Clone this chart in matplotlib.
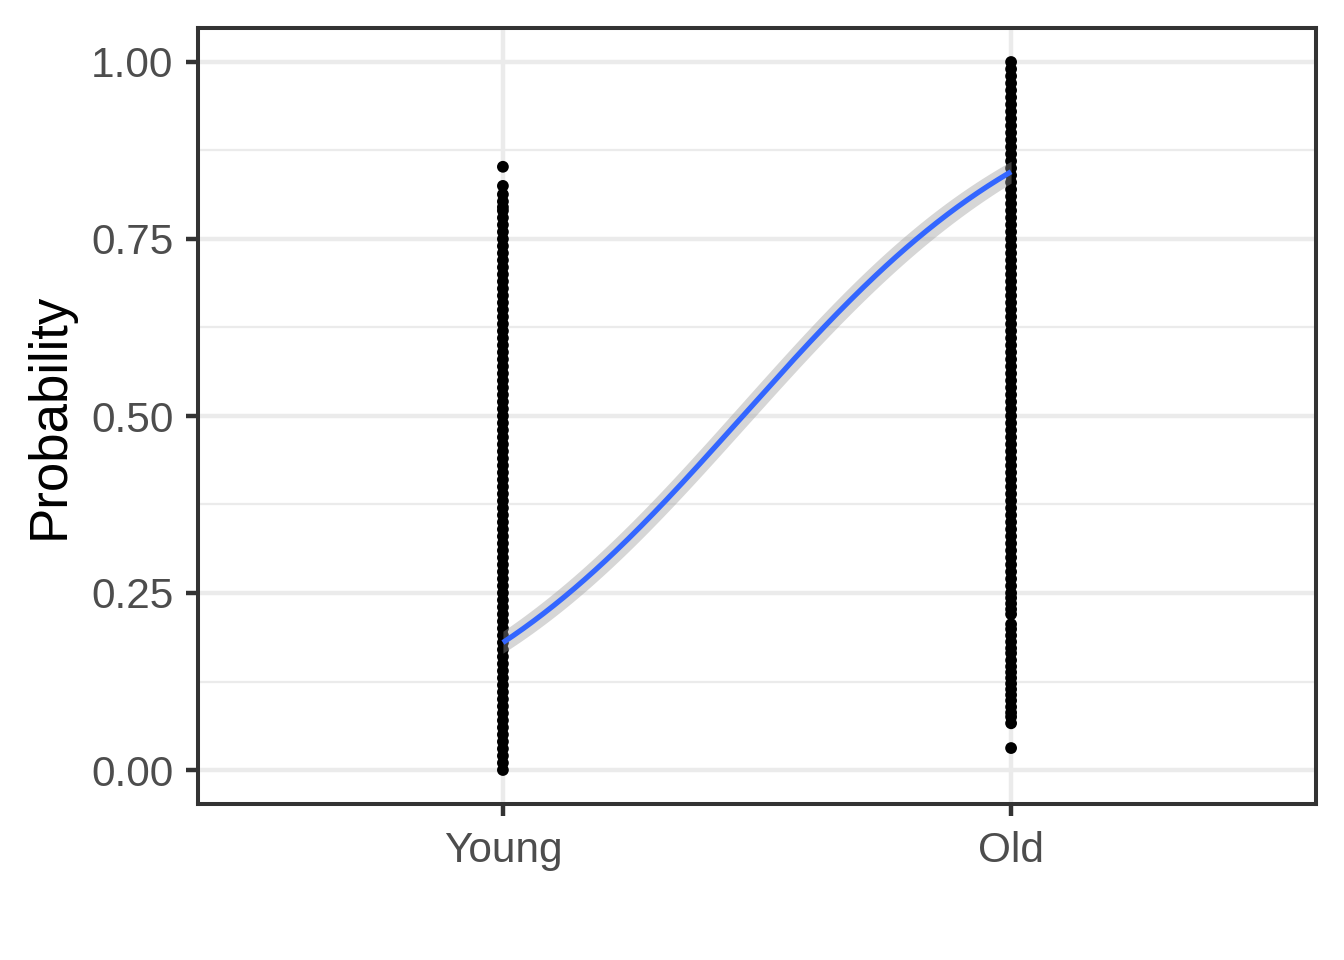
import numpy as np
import matplotlib
matplotlib.use("Agg")
import matplotlib.pyplot as plt

plt.rcParams['font.family'] = ['Liberation Sans', 'DejaVu Sans']

# ---- data ----
categories = ["Young", "Old"]

young_probs = [0.00, 0.01, 0.02, 0.03, 0.04, 0.05, 0.06, 0.07, 0.08, 0.09,
               0.10, 0.11, 0.12, 0.13, 0.14, 0.15, 0.16, 0.17, 0.18, 0.19,
               0.20, 0.21, 0.22, 0.23, 0.24, 0.25, 0.26, 0.27, 0.28, 0.29,
               0.30, 0.31, 0.32, 0.33, 0.34, 0.35, 0.36, 0.37, 0.38, 0.39,
               0.40, 0.41, 0.42, 0.43, 0.44, 0.45, 0.46, 0.47, 0.48, 0.49,
               0.50, 0.51, 0.52, 0.53, 0.54, 0.55, 0.56, 0.57, 0.58, 0.59,
               0.60, 0.61, 0.62, 0.63, 0.64, 0.65, 0.66, 0.67, 0.68, 0.69,
               0.70, 0.71, 0.72, 0.73, 0.74, 0.75, 0.76, 0.77, 0.78, 0.79,
               0.795, 0.803, 0.813, 0.825, 0.852]

old_probs = [1.00, 0.99, 0.98, 0.97, 0.96, 0.95, 0.94, 0.93, 0.92, 0.91,
             0.90, 0.89, 0.88, 0.87, 0.86, 0.85, 0.84, 0.83, 0.82, 0.81,
             0.80, 0.79, 0.78, 0.77, 0.76, 0.75, 0.74, 0.73, 0.72, 0.71,
             0.70, 0.69, 0.68, 0.67, 0.66, 0.65, 0.64, 0.63, 0.62, 0.61,
             0.60, 0.59, 0.58, 0.57, 0.56, 0.55, 0.54, 0.53, 0.52, 0.51,
             0.50, 0.49, 0.48, 0.47, 0.46, 0.45, 0.44, 0.43, 0.42, 0.41,
             0.40, 0.39, 0.38, 0.37, 0.36, 0.35, 0.34, 0.33, 0.32, 0.31,
             0.30, 0.29, 0.28, 0.27, 0.26, 0.25, 0.243, 0.235, 0.227, 0.220,
             0.206, 0.199, 0.190, 0.181, 0.172, 0.165, 0.155, 0.146, 0.138,
             0.130, 0.122, 0.114, 0.106, 0.098, 0.089, 0.081, 0.075, 0.066,
             0.031]

# fitted (binomial GLM, logit link) values at each group and 95% CI half-width on link scale
fit_young, fit_old = 0.18, 0.845
ci_link_young, ci_link_old = 0.105, 0.118

# ---- figure ----
fig = plt.figure(figsize=(13.44, 9.6), dpi=100)
ax = fig.add_axes([198/1344, 1-804/960, (1316-198)/1344, (804-28)/960])

xpos = np.arange(1, len(categories) + 1)

# grid
ax.set_axisbelow(True)
for yv in [0.125, 0.375, 0.625, 0.875]:
    ax.axhline(yv, color="#EBEBEB", lw=1.6, zorder=0)
for yv in [0.0, 0.25, 0.5, 0.75, 1.0]:
    ax.axhline(yv, color="#EBEBEB", lw=3.2, zorder=0)
for xv in xpos:
    ax.axvline(xv, color="#EBEBEB", lw=3.2, zorder=0)

# points
ax.scatter(np.full(len(young_probs), xpos[0]), young_probs, s=72, color="black",
           edgecolors="none", zorder=2)
ax.scatter(np.full(len(old_probs), xpos[1]), old_probs, s=72, color="black",
           edgecolors="none", zorder=2)

# smooth: logistic fit across the two groups
def logit(p):
    return np.log(p / (1 - p))

def expit(z):
    return 1 / (1 + np.exp(-z))

xs = np.linspace(xpos[0], xpos[1], 200)
t = (xs - xpos[0]) / (xpos[1] - xpos[0])
eta = (1 - t) * logit(fit_young) + t * logit(fit_old)
hw = np.sqrt(((1 - t) * ci_link_young) ** 2 + (t * ci_link_old) ** 2)
ax.fill_between(xs, expit(eta - hw), expit(eta + hw), color="#999999", alpha=0.4,
                linewidth=0, zorder=3)
ax.plot(xs, expit(eta), color="#3366FF", lw=3.8, zorder=4, solid_capstyle="butt")

ax.set_xlim(0.4, 2.6)
ax.set_ylim(-(804-770)/708, 1 + (62-28)/708)
ax.set_xticks(xpos)
ax.set_xticklabels(categories)
ax.set_yticks([0, 0.25, 0.5, 0.75, 1.0])
ax.set_yticklabels(["0.00", "0.25", "0.50", "0.75", "1.00"])

for sp in ax.spines.values():
    sp.set_color("#333333")
    sp.set_linewidth(2.9)
    sp.set_zorder(6)

ax.tick_params(axis="both", colors="#333333", width=3.2, length=8.6,
               labelsize=30.5, labelcolor="#4D4D4D")
ax.tick_params(axis="y", pad=9)
ax.tick_params(axis="x", pad=11)

ax.set_ylabel("Probability", fontsize=38, color="black", labelpad=12)

fig.savefig("out.png", dpi=100, facecolor="white")
